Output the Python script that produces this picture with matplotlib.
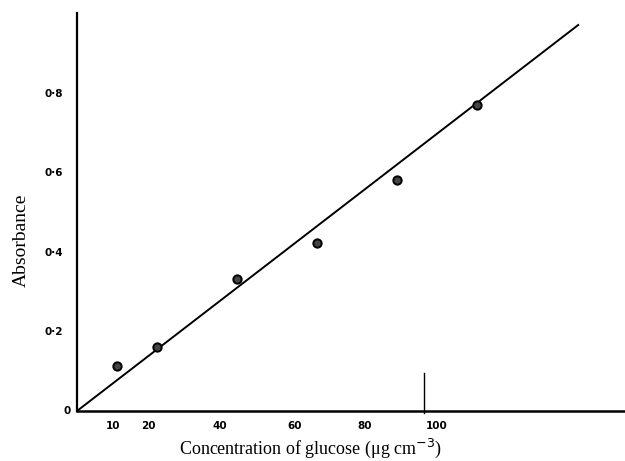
import matplotlib.pyplot as plt

# Dados (glucose x absorbancia)
concentracao = [10, 20, 40, 60, 80, 100]
absorbancia = [0.114, 0.160, 0.333, 0.422, 0.581, 0.769]

# reta de calibracao desenhada a mao
reta_x = [0, 125.3]
reta_y = [0, 0.971]

# rotulos dos eixos como foram escritos no papel
xtick_pos = [9, 17.8, 35.8, 54.5, 72, 90]
xtick_lab = ["10", "20", "40", "60", "80", "100"]
ytick_pos = [0.2, 0.4, 0.6, 0.8]
ytick_lab = ["0·2", "0·4", "0·6", "0·8"]

# risco solto perto do eixo x
risco_x = 86.75
risco_y = [-0.005, 0.095]

fig = plt.figure(figsize=(6.25, 4.61), dpi=100)
ax = fig.add_axes([0.1232, 0.1085, 0.8768, 0.8623])

ax.plot(reta_x, reta_y, color="black", linewidth=1.4)
ax.plot(concentracao, absorbancia, linestyle="none", marker="o", markersize=6,
        markerfacecolor="#444444", markeredgecolor="black", markeredgewidth=1.4)
ax.plot([risco_x, risco_x], risco_y, color="black", linewidth=1.0, clip_on=False)

ax.set_xlim(0, 137)
ax.set_ylim(0, 1.0)

for lado in ["top", "right"]:
    ax.spines[lado].set_visible(False)
ax.spines["left"].set_linewidth(1.6)
ax.spines["bottom"].set_linewidth(1.8)

ax.set_xticks(xtick_pos, xtick_lab)
ax.set_yticks(ytick_pos, ytick_lab)
ax.tick_params(axis="both", length=0, labelsize=7.5)
ax.tick_params(axis="x", pad=7)
ax.tick_params(axis="y", pad=10)
for t in ax.get_xticklabels() + ax.get_yticklabels():
    t.set_fontweight("bold")
ax.text(-1.5, 0, "0", ha="right", va="center", fontsize=7.5, fontweight="bold")

ax.set_xlabel("Concentration of glucose (μg cm$^{-3}$)", family="Liberation Serif",
              fontsize=13)
ax.set_ylabel("Absorbance", family="Liberation Serif", fontsize=14)
ax.xaxis.label.set_va("center")
ax.yaxis.label.set_va("center")
ax.xaxis.set_label_coords(0.427, -0.094)
ax.yaxis.set_label_coords(-0.102, 0.43)

fig.savefig("out.png", dpi=100)
